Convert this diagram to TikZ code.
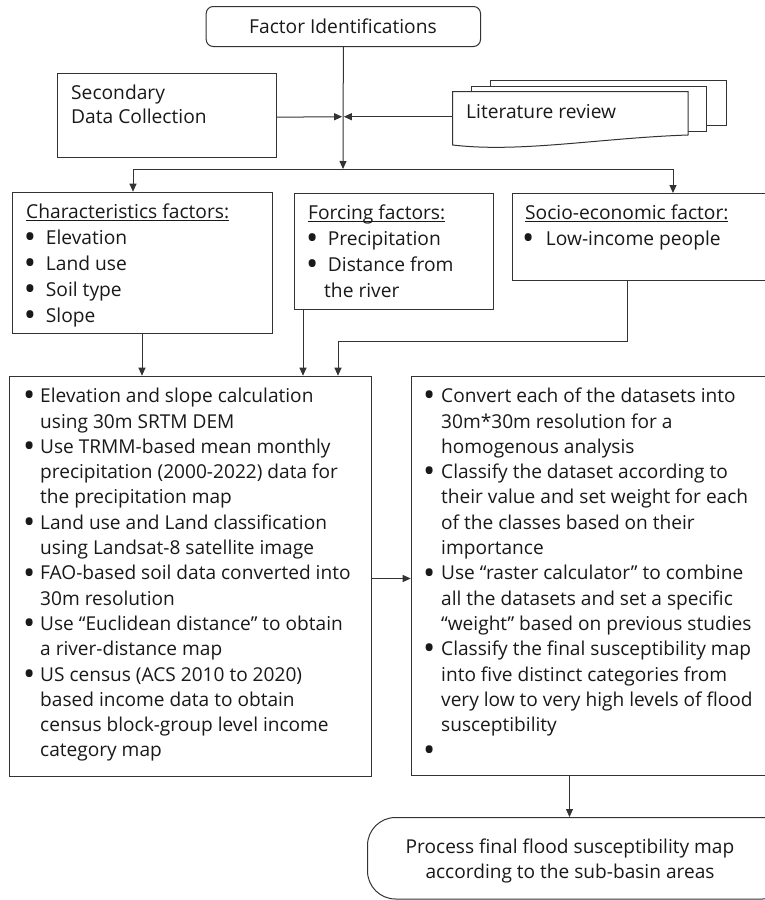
\documentclass[tikz,border=0pt]{standalone}
\usepackage{fontspec}
\usepackage{graphicx}
\setmainfont{Open Sans}
\usetikzlibrary{arrows.meta}
\newsavebox\ulbox
\newcommand\ulh[1]{\sbox\ulbox{#1}\rlap{\rule[-2.4pt]{\wd\ulbox}{0.9pt}}\usebox\ulbox}
\newcommand\bl[1]{\makebox[#1][l]{\hspace*{-4.2pt}\smash{\raisebox{-0.22em}{\scalebox{1.7}{\textbullet}}}}}
\begin{document}
\begin{tikzpicture}[x=1pt,y=-1pt,
  line/.style={draw=black!80,line width=1pt},
  arr/.style={line,-{Triangle[length=8pt,width=7pt]}},
  box/.style={line,fill=white,anchor=north west,inner sep=0pt},
  topfont/.style={font=\fontsize{19.2}{26}\selectfont,text=black!90,inner sep=0pt},
  bigfont/.style={font=\fontsize{19.1}{25.3}\selectfont,text=black!90,inner sep=0pt,align=left},
]
\useasboundingbox (0,0) rectangle (764,900);

% top
\node[box,rounded corners=7pt,minimum width=274.3pt,minimum height=40pt] (fact) at (205.7,6) {};
\node[topfont] (facttxt) at (343,26.5) {Factor Identifications};

\node[box,minimum width=218.7pt,minimum height=84pt] (sec) at (57.3,72.7) {};
\node[topfont,anchor=base west,align=left,font=\fontsize{19.2}{24.6}\selectfont] (sectxt) at (71,123.9) {Secondary\\Data Collection};

% literature review documents
\draw[line,fill=white] (490,80) rectangle (726.7,125.7);
\draw[line,fill=white] (471.7,86) rectangle (706,131);
\draw[line,fill=white] (452.7,91.7) -- (688,91.7) -- (688,135)
  .. controls (600,138) and (520,153) .. (452.7,145) -- cycle;
\node[topfont,anchor=base west] (lit) at (466,118.3) {Literature review};
\coordinate (litL) at (452.7,116.7);

\coordinate (jm) at (343,116.7);
\coordinate (jn) at (343,169);

\draw[arr] (fact.south) -- (jn);
\draw[arr] ([yshift=-2pt]sec.east) -- ([xshift=-0.8pt]jm);
\draw[arr] (litL) -- ([xshift=0.8pt]jm);

% factor boxes
\node[box,minimum width=259.7pt,minimum height=141pt] (char) at (12,191.7) {};
\node[box,minimum width=198.7pt,minimum height=115.7pt] (force) at (294,193.3) {};
\node[box,minimum width=270pt,minimum height=87pt] (socio) at (511.7,193) {};

\draw[arr] (jn) -| ([xshift=121pt]char.north west);
\draw[arr] (jn) -| ([xshift=161.3pt]socio.north west);

\node[topfont,anchor=base west,align=left] (chartxt) at (26,322.6)
 {\ulh{Characteristics factors:}\\
  \hspace*{2pt}\bl{17.7pt}Elevation\\
  \hspace*{2pt}\bl{17.7pt}Land use\\
  \hspace*{2pt}\bl{17.7pt}Soil type\\
  \hspace*{2pt}\bl{17.7pt}Slope};
\node[topfont,anchor=base west,align=left] (forcetxt) at (308,297.5)
 {\ulh{Forcing factors:}\\
  \hspace*{2pt}\bl{17.7pt}Precipitation\\
  \hspace*{2pt}\bl{17.7pt}Distance from\\
  \hspace*{16pt}the river};
\node[topfont,anchor=base west,align=left] (sociotxt) at (525,245.5)
 {\ulh{Socio-economic factor:}\\
  \hspace*{1pt}\bl{19.7pt}Low-income people};

% processing boxes
\node[box,minimum width=361.4pt,minimum height=399.8pt] (big) at (9.3,375.7) {};
\node[box,minimum width=360pt,minimum height=399.3pt] (right) at (410.7,375.7) {};

\draw[arr] ([xshift=130pt]char.south west) coordinate (c1) -- (c1 |- big.north);
\draw[arr] ([xshift=9pt]force.south west) coordinate (c2) -- (c2 |- big.north);
\draw[arr] ([xshift=116pt]socio.south west) coordinate (c3) -- ++(0,60) -| ([xshift=328.7pt]big.north west);

\node[bigfont,anchor=base west] (bigtxt) at (27,756.9)
 {\bl{13pt}Elevation and slope calculation\\
  \hspace*{13pt}using 30m SRTM DEM\\
  \bl{13pt}Use TRMM-based mean monthly\\
  \hspace*{13pt}precipitation (2000-2022) data for\\
  \hspace*{13pt}the precipitation map\\
  \bl{13pt}Land use and Land classification\\
  \hspace*{13pt}using Landsat-8 satellite image\\
  \bl{13pt}FAO-based soil data converted into\\
  \hspace*{13pt}30m resolution\\
  \bl{13pt}Use “Euclidean distance” to obtain\\
  \hspace*{13pt}a river-distance map\\
  \bl{13pt}US census (ACS 2010 to 2020)\\
  \hspace*{13pt}based income data to obtain\\
  \hspace*{13pt}census block-group level income\\
  \hspace*{13pt}category map};

\node[bigfont,anchor=base west] (righttxt) at (427,756.9)
 {\bl{14pt}Convert each of the datasets into\\
  \hspace*{14pt}30m*30m resolution for a\\
  \hspace*{14pt}homogenous analysis\\
  \bl{14pt}Classify the dataset according to\\
  \hspace*{14pt}their value and set weight for each\\
  \hspace*{14pt}of the classes based on their\\
  \hspace*{14pt}importance\\
  \bl{14pt}Use “raster calculator” to combine\\
  \hspace*{14pt}all the datasets and set a specific\\
  \hspace*{14pt}“weight” based on previous studies\\
  \bl{14pt}Classify the final susceptibility map\\
  \hspace*{14pt}into five distinct categories from\\
  \hspace*{14pt}very low to very high levels of flood\\
  \hspace*{14pt}susceptibility\\
  \bl{14pt}};

\draw[arr] ([yshift=-2.4pt]big.east) coordinate (c4) -- (c4 -| right.west);

% final
\node[box,rounded corners=28pt,minimum width=423pt,minimum height=81.5pt] (final) at (367,817) {};
\node[bigfont,anchor=base,align=center] (finaltxt) at (570,878.8)
 {Process final flood susceptibility map\\according to the sub-basin areas};

\draw[arr] ([xshift=158.8pt]right.south west) coordinate (c5) -- (c5 |- final.north);
\end{tikzpicture}
\end{document}
